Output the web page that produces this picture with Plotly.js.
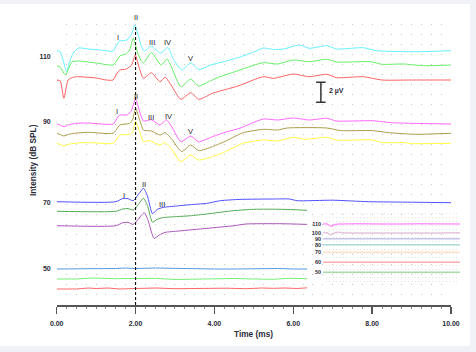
<!DOCTYPE html>
<html><head><meta charset="utf-8">
<script src="https://cdn.plot.ly/plotly-3.0.1.min.js"></script>
<style>html,body{margin:0;padding:0;background:#f0f2f7;}#chart{width:476px;height:352px;}</style>
</head><body><div id="chart"></div>
<script>
// ---------- DATA (times in ms, amplitudes in µV relative to each trace's baseline) ----------
const levelLabels = ["110", "90", "70", "50"];
const levelTickPos = [24.8, 18.3, 10.2, 3.6];

// 110 dB group
const t110a = [0,0.08,0.16,0.25,0.33,0.42,0.55,0.8,1.1,1.43,1.52,1.6,1.78,1.9,1.98,2.06,2.15,2.22,2.4,2.63,2.82,2.95,3.17,3.4,3.6,3.9,4.25,4.65,5.0,5.24,5.5,5.75,6.17,6.4,6.85,7.1,7.77,8.12,9.14,10];
const v110a = [0,-0.05,-0.9,-2.07,-1.07,-0.2,0.3,0.2,0.1,0.0,0.6,1.0,1.1,1.7,2.6,1.7,0.45,0.0,0.5,-0.2,0.35,-0.75,-1.9,-1.2,-1.85,-1.4,-1.05,-0.6,-0.1,0.3,0.15,0.2,0.6,0.27,0.53,0.2,0.33,0.03,-0.07,0.03];
const t110b = [0,0.08,0.15,0.22,0.3,0.38,0.55,1.0,1.43,1.52,1.6,1.75,1.85,1.94,2.04,2.13,2.2,2.4,2.65,2.8,2.92,3.15,3.4,3.6,3.85,4.1,4.5,5.24,5.6,6.0,6.4,6.85,7.1,7.96,8.25,8.8,9.3,10];
const v110b = [0,-0.05,-0.5,-0.9,-0.3,0.4,0.5,0.3,0.1,0.5,1.0,1.2,1.6,2.77,1.5,0.6,0.3,1.35,0.1,0.7,-0.2,-2.07,-1.3,-2.0,-1.57,-1.13,-0.6,0.33,0.2,0.6,0.43,0.67,0.4,0.43,0.17,0.2,0.03,0.1];
const t110c = [0,0.09,0.18,0.29,0.4,0.5,1.0,1.26,1.43,1.52,1.6,1.75,1.9,1.99,2.08,2.2,2.4,2.62,2.75,2.9,3.15,3.4,3.6,3.95,4.3,4.6,5.24,5.5,6.0,6.4,6.85,7.1,7.77,8.25,9.0,10];
const v110c = [0,-0.1,-1.83,0.0,0.25,0.33,0.2,0.0,0.0,0.6,1.0,1.07,1.5,2.5,1.4,0.17,0.73,-0.17,0.27,-0.5,-1.93,-1.27,-1.93,-1.33,-0.93,-0.6,0.33,0.17,0.6,0.33,0.57,0.23,0.33,0.0,0.0,0.0];

// 90 dB group
const t90a = [0,0.08,0.18,0.3,0.45,0.8,1.43,1.52,1.6,1.77,1.88,2.0,2.1,2.2,2.4,2.62,2.78,2.92,3.15,3.4,3.6,3.95,4.3,4.64,4.9,5.24,5.6,6.0,6.4,6.85,7.1,8.0,8.5,9.0,10];
const v90a = [0,-0.1,-0.27,-0.1,0.05,0.1,0.0,0.5,0.9,0.9,1.23,2.47,1.3,0.3,0.43,-0.1,0.43,-0.3,-1.77,-1.2,-1.77,-1.27,-0.8,-0.43,0.0,0.5,0.4,0.6,0.4,0.57,0.3,0.33,0.13,0.07,0.0];
const t90b = [0,0.08,0.18,0.3,0.45,0.8,1.43,1.52,1.6,1.85,1.93,2.0,2.1,2.2,2.4,2.62,2.75,2.92,3.17,3.4,3.6,3.95,4.3,4.5,4.72,5.24,5.6,5.85,6.85,7.2,8.0,8.4,9.1,10];
const v90b = [0,-0.1,-0.27,-0.1,0.0,0.1,0.0,0.4,0.83,1.0,1.4,2.5,1.4,0.33,0.23,-0.17,0.07,-0.6,-1.83,-1.17,-1.73,-1.33,-0.75,-0.35,0.05,0.4,0.33,0.53,0.53,0.27,0.27,0.07,-0.1,0.0];
const t90c = [0,0.08,0.18,0.3,0.45,0.8,1.43,1.52,1.6,1.85,1.93,2.0,2.1,2.2,2.35,2.62,2.75,2.92,3.15,3.4,3.6,3.95,4.3,4.5,4.72,5.24,5.6,6.0,6.3,6.85,7.1,8.0,8.25,8.8,9.0,10];
const v90c = [0,-0.1,-0.27,-0.1,0.0,0.07,0.0,0.4,0.83,0.9,1.2,2.2,1.2,0.17,0.27,-0.17,0.07,-0.6,-1.83,-1.17,-1.67,-1.33,-0.8,-0.4,0.0,0.33,0.23,0.6,0.4,0.6,0.33,0.33,0.07,0.07,-0.03,0.0];

// 70 dB group
const t70a = [0,1.5,1.68,1.81,1.94,2.06,2.2,2.3,2.43,2.55,2.7,3.04,3.38,3.8,4.15,4.65,5.5,5.9,6.1,7.0,7.9,9.0,10];
const v70a = [0,0,0.33,0.3,0.1,0.67,1.33,0.6,-1.2,-0.77,-0.57,-0.43,-0.3,-0.17,0.1,0.23,0.27,0.27,0.1,0.15,0.0,-0.05,-0.1];
const t70b = [0,1.5,1.68,1.81,1.94,2.06,2.2,2.3,2.43,2.55,2.7,3.04,3.38,3.8,4.5,5.0,5.7,6.35];
const v70b = [0,0,0.23,0.27,0.13,0.63,1.3,0.6,-1.1,-0.8,-0.63,-0.53,-0.45,-0.27,0.07,0.2,0.2,0.1];
const t70c = [0,1.5,1.68,1.81,1.94,2.06,2.22,2.32,2.47,2.6,2.75,3.1,3.8,4.5,4.8,5.66,6.35];
const v70c = [0,0,0.3,0.33,0.13,0.6,1.3,0.5,-1.27,-0.93,-0.67,-0.53,-0.27,0.0,0.17,0.2,0.13];

// 50 dB group
const t50a = [0,1.0,1.5,1.75,2.0,2.5,3.0,3.5,4.0,4.5,5.0,5.3,5.6,6.0,6.35];
const v50a = [0,0,0.05,0.1,0.05,0.1,0.05,0,0,0,0.03,0.1,0.05,0,0];
const t50b = [0,0.5,0.9,1.2,1.5,2.0,2.5,3.0,3.5,4.0,4.5,5.0,5.5,5.9,6.35];
const v50b = [0,0,0.1,0.05,0.03,0.05,0.07,-0.05,0,0.02,0.05,0.0,-0.03,0.07,0.03];
const t50c = [0,0.5,0.8,1.0,1.3,1.6,2.0,2.5,3.0,3.4,3.8,4.3,4.8,5.2,5.5,5.8,6.1,6.35];
const v50c = [0,0,0.1,0.05,0.1,0,0.05,0.1,0.03,0.05,0.0,0.08,0.03,0.1,0.07,0.1,0.05,0.12];

// baselines (µV offsets on the stacked display)
const baselines = [25.4, 23.9, 22.5, 18.1, 17.17, 16.17, 10.33, 9.37, 7.93, 3.6, 2.6, 1.6];
const traceColors = ["#66f0ff","#66ee66","#ff6060","#ff66ff","#ab9c48","#ffff40","#5050ff","#55aa55","#aa55bb","#5599dd","#77ee77","#ff6666"];

// peak labels
const peakNames = ["I","II","III","IV","V", "I","II","III","IV","V", "I","II","III"];
const peakT =     [1.55,2.0,2.42,2.81,3.4, 1.54,2.02,2.39,2.84,3.39, 1.7,2.21,2.68];
const peakY =     [26.7,28.7,26.2,26.2,24.6, 19.4,20.9,18.73,18.9,17.33, 11.0,12.1,10.03];

// inset (overview) traces
const insetLabels = ["110","100","90","80","70","60","50"];
const insetBase = [6.1, 5.23, 4.63, 4.03, 3.27, 2.27, 1.27];
const insetColors = ["#ff99ff","#e6c6dc","#c4c4ec","#b0dcd8","#ffe2cc","#ffb0b0","#a8dca8"];
const tIn110 = [0,0.3,0.55,0.9,1.2,3,5,7,10];
const vIn110 = [0,0,-0.2,-0.05,0,0.02,0,0.02,0];
const tIn100 = [0,0.3,0.55,0.8,1.1,1.5,10];
const vIn100 = [0,0,-0.2,-0.05,0.05,0,0];
const tInFlat = [0,10];
const vInFlat = [0,0];

const scaleBarUV = 2;

// ---------- BUILD ----------
const series = [[t110a,v110a],[t110b,v110b],[t110c,v110c],[t90a,v90a],[t90b,v90b],[t90c,v90c],
                [t70a,v70a],[t70b,v70b],[t70c,v70c],[t50a,v50a],[t50b,v50b],[t50c,v50c]];
const traces = [];
traces.push({x:[],y:[],xaxis:'x',yaxis:'y',type:'scatter',mode:'lines',showlegend:false,hoverinfo:'skip'});
series.forEach((s,i)=>{
  traces.push({x:s[0], y:s[1].map(v=>v+baselines[i]), xaxis:'x2', yaxis:'y2', type:'scatter', mode:'lines',
    line:{color:traceColors[i], width:1, shape: i<9 ? 'spline' : 'linear', smoothing:0.6}, showlegend:false, hoverinfo:'skip'});
});
const insetSeries = [[tIn110,vIn110],[tIn100,vIn100],[tInFlat,vInFlat],[tInFlat,vInFlat],[tInFlat,vInFlat],[tInFlat,vInFlat],[tInFlat,vInFlat]];
insetSeries.forEach((s,i)=>{
  traces.push({x:s[0], y:s[1].map(v=>v+insetBase[i]), xaxis:'x3', yaxis:'y3', type:'scatter', mode:'lines',
    line:{color:insetColors[i], width:1.5, shape:'spline'}, showlegend:false, hoverinfo:'skip'});
});

const W=476, H=352;
const px = v => v/W, py = v => (H-v)/H;
const FONT = "Liberation Sans, Arial, sans-serif";
const TXT = "#2b2b38";
const xDom = [px(56.7), px(451)];

const annotations = peakNames.map((n,i)=>({x:peakT[i], y:peakY[i], xref:'x2', yref:'y2', text:n, showarrow:false,
  font:{family:FONT, size:7.5, color:'#1e1e2c', weight:'normal'}, xanchor:'center', yanchor:'middle'}));
annotations.push({x:7.1, y:baselines[2]-1.07, xref:'x2', yref:'y2', text:'2 µV', showarrow:false,
  font:{family:FONT, size:7, color:TXT, weight:'bold'}, xanchor:'center', yanchor:'middle'});
annotations.push({x:px(253), y:py(334), xref:'paper', yref:'paper', text:'Time (ms)', showarrow:false,
  font:{family:FONT, size:8.3, color:TXT, weight:'bold'}, xanchor:'center', yanchor:'middle'});
annotations.push({x:px(33), y:py(160), xref:'paper', yref:'paper', text:'Intensity (dB SPL)', showarrow:false, textangle:-90,
  font:{family:FONT, size:8.3, color:TXT, weight:'bold'}, xanchor:'center', yanchor:'middle'});

const sbY0 = 20.27, sbX = 6.7;
const shapes = [
  {type:'rect', xref:'paper', yref:'paper', x0:0, x1:px(470), y0:py(346), y1:py(4), fillcolor:'#ffffff', line:{width:0}, layer:'below'},
  {type:'line', xref:'x2', yref:'y2', x0:2.0, x1:2.0, y0:0, y1:27.9, line:{color:'#111', width:1.1, dash:'3px,2px'}},
  {type:'line', xref:'x2', yref:'y2', x0:sbX, x1:sbX, y0:sbY0, y1:sbY0+scaleBarUV, line:{color:'#333', width:1.5}},
  {type:'line', xref:'x2', yref:'y2', x0:sbX-0.12, x1:sbX+0.12, y0:sbY0, y1:sbY0, line:{color:'#333', width:1.5}},
  {type:'line', xref:'x2', yref:'y2', x0:sbX-0.12, x1:sbX+0.12, y0:sbY0+scaleBarUV, y1:sbY0+scaleBarUV, line:{color:'#333', width:1.5}},
  {type:'rect', xref:'x3 domain', yref:'y3 domain', x0:0, x1:1, y0:0, y1:1, fillcolor:'#ffffff', line:{width:0}, layer:'below'}
];

const layout = {
  width:W, height:H, margin:{l:0,r:0,t:0,b:0,pad:0},
  paper_bgcolor:'#f0f2f7', plot_bgcolor:'rgba(0,0,0,0)',
  showlegend:false,
  xaxis:{domain:xDom, range:[0,10], anchor:'y', showgrid:true, gridcolor:'#c4c4c4', gridwidth:1, griddash:'1px,9px',
         tick0:0, dtick:0.25, showticklabels:false, ticks:'', zeroline:false, showline:false, fixedrange:true},
  yaxis:{domain:[py(297), py(24)], range:[0,1], anchor:'x', showgrid:false, showticklabels:false, ticks:'', zeroline:false, showline:false},
  xaxis2:{domain:xDom, range:[0,10], anchor:'y2', showgrid:false, zeroline:false, showline:true, linecolor:'#555', linewidth:1.5,
          tickvals:[0,2,4,6,8,10], tickformat:'.2f', ticks:'outside', ticklen:7, tickwidth:1.5, tickcolor:'#555',
          ticklabelstandoff:4,
          minor:{dtick:0.25, tick0:0, ticks:'outside', ticklen:2.5, tickcolor:'#888', tickwidth:1, showgrid:false},
          tickfont:{family:FONT, size:7, color:TXT, weight:'bold'}},
  yaxis2:{domain:[py(305), py(8)], range:[0,29.7], anchor:'x2', showgrid:false, zeroline:false, showline:false, ticks:'',
          tickvals:levelTickPos, ticktext:levelLabels, ticklabelstandoff:5,
          tickfont:{family:FONT, size:7, color:TXT, weight:'bold'}},
  xaxis3:{domain:[px(323), px(460)], range:[0,10], anchor:'y3', showgrid:true, gridcolor:'#e4e4e4', gridwidth:1, griddash:'1px,3px',
          tick0:0, dtick:0.25, showticklabels:false, ticks:'', zeroline:false, showline:false},
  yaxis3:{domain:[py(285), py(213)], range:[0,7.2], anchor:'x3', showgrid:false, zeroline:false, showline:false, ticks:'',
          tickvals:insetBase, ticktext:insetLabels, ticklabelstandoff:1,
          tickfont:{family:FONT, size:5.5, color:TXT, weight:'bold'}},
  annotations:annotations,
  shapes:shapes
};
Plotly.newPlot('chart', traces, layout, {staticPlot:true, displayModeBar:false});
</script></body></html>
